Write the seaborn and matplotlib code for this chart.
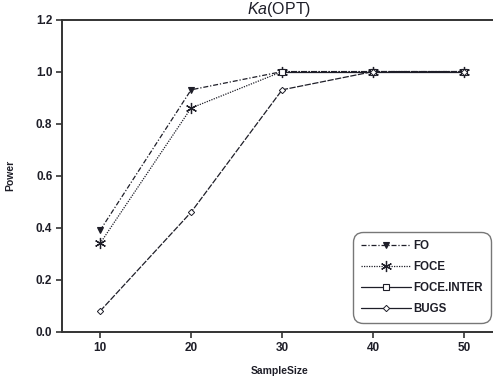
import matplotlib
matplotlib.use("Agg")
import matplotlib.pyplot as plt
from matplotlib.lines import Line2D
import numpy as np
import pandas as pd
import seaborn as sns

sample_size = [10, 20, 30, 40, 50]
power_fo = [0.39, 0.93, 1.0, 1.0, 1.0]
power_foce = [0.34, 0.86, 1.0, 1.0, 1.0]
power_foce_inter = [np.nan, np.nan, 1.0, 1.0, 1.0]
power_bugs = [0.08, 0.46, 0.93, 1.0, 1.0]
method_names = ["FO", "FOCE", "FOCE.INTER", "BUGS"]
y_ticks = [0.0, 0.2, 0.4, 0.6, 0.8, 1.0, 1.2]

sns.set_theme(style="ticks")
plt.rcParams["font.family"] = ["Liberation Sans", "DejaVu Sans"]
plt.rcParams["mathtext.fontset"] = "custom"
plt.rcParams["mathtext.it"] = "Liberation Sans:italic"
plt.rcParams["mathtext.rm"] = "Liberation Sans"

ink = "#1e1e28"
fig = plt.figure(figsize=(4.93, 3.83), dpi=100)
W, H = 493, 383
ax = fig.add_axes([62 / W, (H - 332) / H, (497 - 62) / W, (332 - 19.5) / H])

styles = {
    "FO": dict(ls=(0, (4, 1.5, 1, 1.5)), marker="v", ms=4, mfc=ink, mec=ink),
    "FOCE": dict(ls=(0, (1, 1)), marker=(6, 2, 0), ms=8, mfc="none", mec=ink, mew=0.9),
    "FOCE.INTER": dict(ls="-", marker="s", ms=4, mfc="white", mec=ink, mew=0.8),
    "BUGS": dict(ls=(0, (5, 1.2)), marker="D", ms=3.2, mfc="white", mec=ink, mew=0.7),
}
series = {
    "FO": power_fo,
    "FOCE": power_foce,
    "FOCE.INTER": power_foce_inter,
    "BUGS": power_bugs,
}

for name in method_names:
    df = pd.DataFrame({"SampleSize": sample_size, "Power": series[name]})
    st = styles[name]
    sns.lineplot(data=df, x="SampleSize", y="Power", ax=ax, color=ink, lw=0.9,
                 linestyle=st["ls"], marker=st["marker"], markersize=st["ms"],
                 markerfacecolor=st["mfc"], markeredgecolor=st["mec"],
                 markeredgewidth=st.get("mew", 0.8), label=name, legend=False)

ax.set_xlim(5.82, 53.6)
ax.set_ylim(0, 1.2)
ax.set_xticks(sample_size)
ax.set_yticks(y_ticks)
ax.set_yticklabels([f"{v:.1f}" for v in y_ticks])
for s in ax.spines.values():
    s.set_linewidth(1.4)
    s.set_color("#333333")
ax.tick_params(axis="both", direction="out", length=4, width=1.2, color="#333333",
               labelsize=8.5, labelcolor=ink, pad=3)
for lbl in ax.get_xticklabels() + ax.get_yticklabels():
    lbl.set_fontweight("bold")

ax.set_xlabel("SampleSize", fontsize=7.5, fontweight="bold", color=ink, labelpad=9)
ax.set_ylabel("Power", fontsize=7.5, fontweight="bold", color=ink, labelpad=15)
ax.set_title(r"$\it{Ka}$(OPT)", fontsize=11.5, color=ink, pad=4)

# legend handles: BUGS keeps a solid stroke in the key
handles = []
for name in method_names:
    st = styles[name]
    ls = "-" if name == "BUGS" else st["ls"]
    handles.append(Line2D([], [], color=ink, lw=0.9, linestyle=ls, marker=st["marker"],
                          markersize=st["ms"], markerfacecolor=st["mfc"],
                          markeredgecolor=st["mec"], markeredgewidth=st.get("mew", 0.8)))
leg = ax.legend(handles, method_names, loc="lower left", bbox_to_anchor=(0.669, 0.029),
                borderaxespad=0, frameon=True, fancybox=True, handlelength=4.3,
                handletextpad=0.2, labelspacing=0.76, borderpad=0.72,
                prop={"size": 8.3, "weight": "bold"})
leg.get_frame().set_edgecolor("#555555")
leg.get_frame().set_linewidth(1.0)
leg.get_frame().set_boxstyle("round", pad=0, rounding_size=0.9)
for t in leg.get_texts():
    t.set_color(ink)

fig.savefig("out.png", dpi=100)
